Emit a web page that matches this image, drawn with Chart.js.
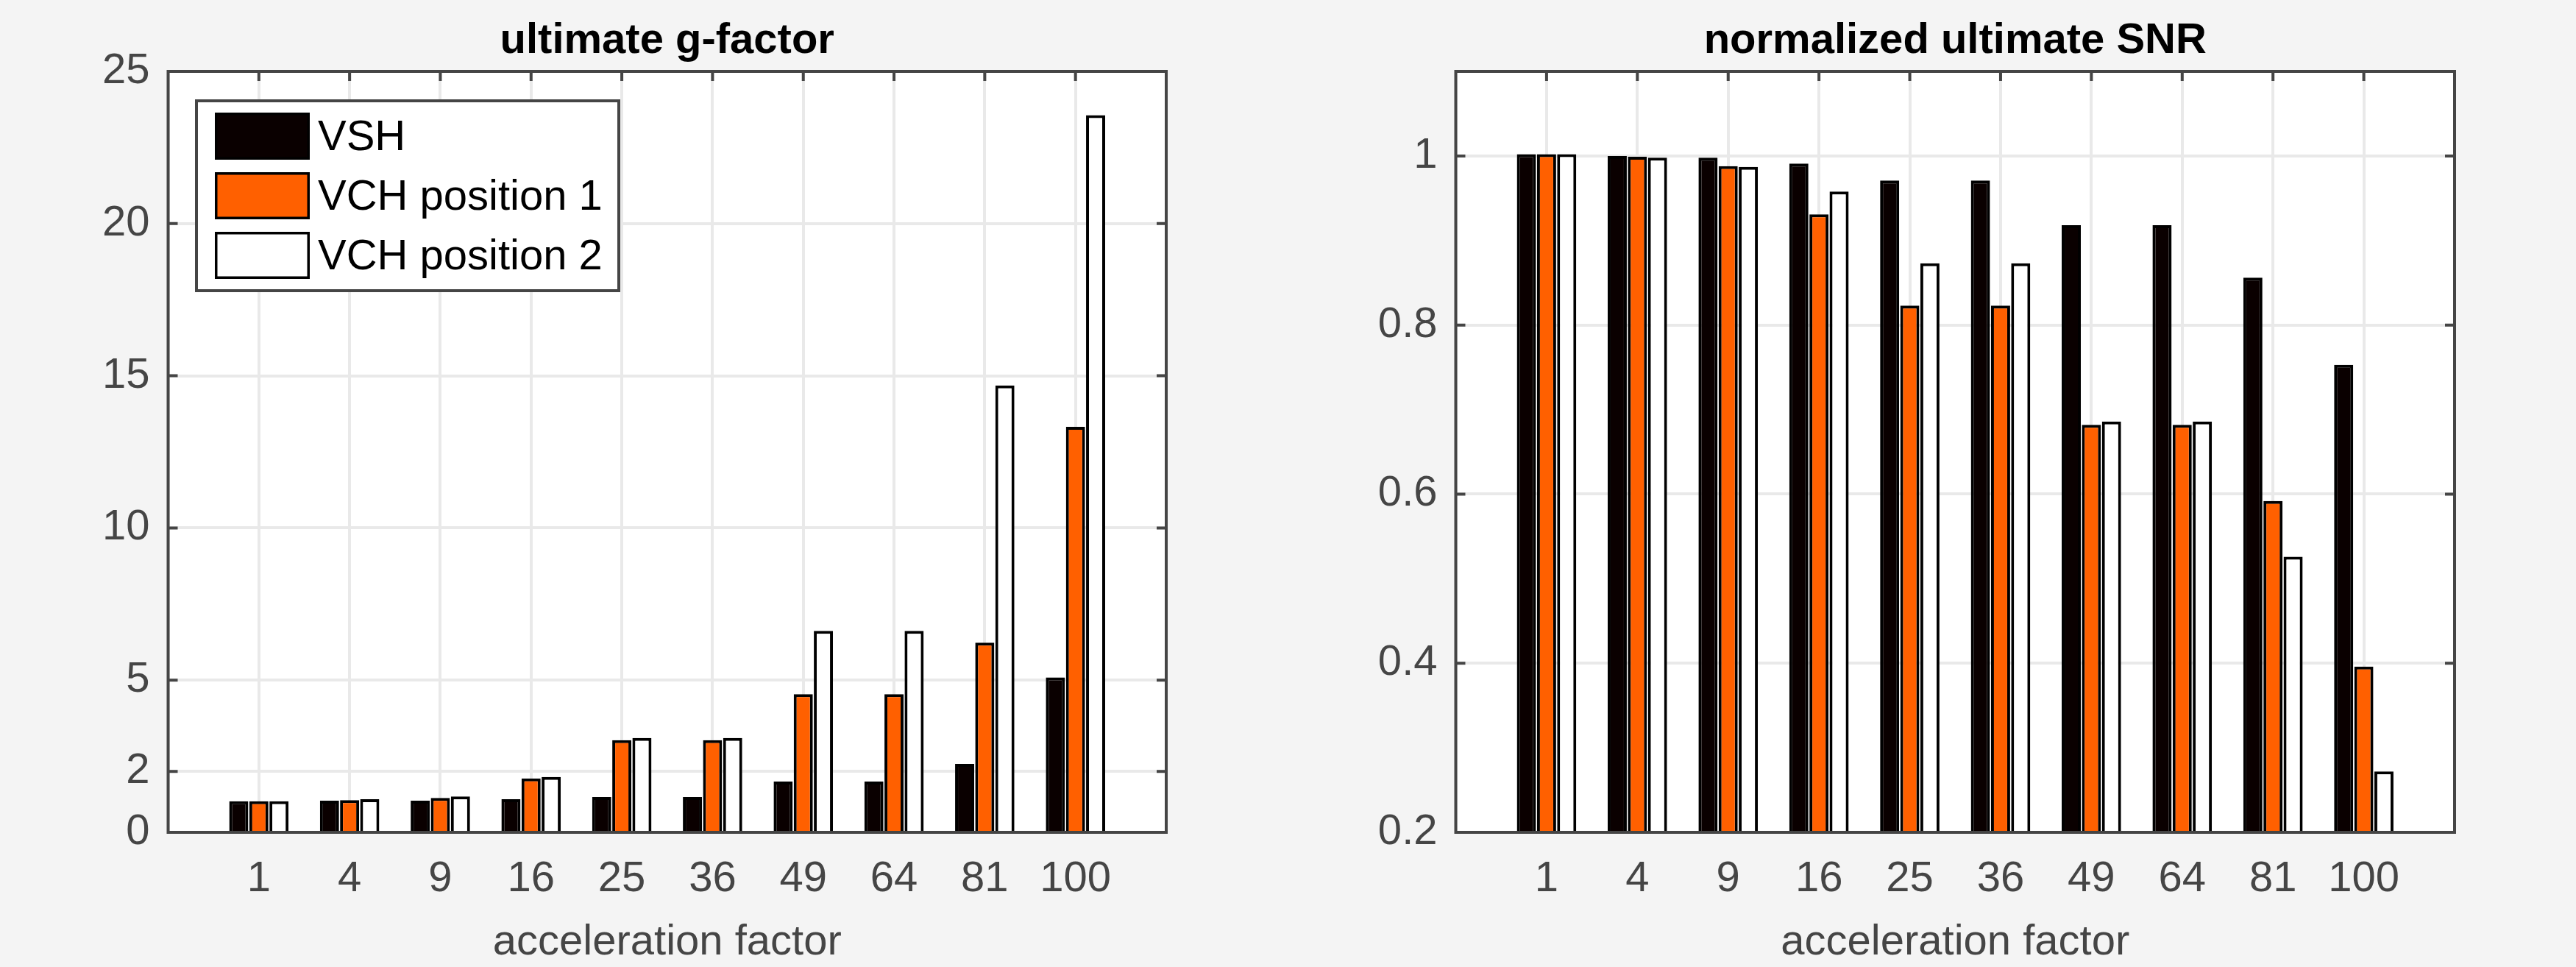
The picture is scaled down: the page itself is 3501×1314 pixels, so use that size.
<!DOCTYPE html>
<html>
<head>
<meta charset="utf-8">
<script src="https://cdn.jsdelivr.net/npm/chart.js@4.4.1/dist/chart.umd.min.js"></script>
<style>
  html, body { margin: 0; padding: 0; background: #f4f4f4; }
  .panel { position: absolute; top: 0; height: 1314px; }
  #leftPanel { left: 0; width: 1750px; }
  #rightPanel { left: 1750px; width: 1751px; }
</style>
</head>
<body>
<div class="panel" id="leftPanel"><canvas id="gfactorChart"></canvas></div>
<div class="panel" id="rightPanel"><canvas id="snrChart"></canvas></div>
<script>
// acceleration factors (x categories)
const categories = ['1', '4', '9', '16', '25', '36', '49', '64', '81', '100']

// ultimate g-factor
const gVSH  = [1.02, 1.04, 1.04, 1.09, 1.16, 1.16, 1.67, 1.67, 2.25, 5.09]
const gVCH1 = [1.02, 1.06, 1.13, 1.77, 3.03, 3.03, 4.54, 4.54, 6.23, 13.32]
const gVCH2 = [1.02, 1.09, 1.18, 1.82, 3.10, 3.10, 6.62, 6.62, 14.68, 23.56]
const gTicks = [0, 2, 5, 10, 15, 20, 25]

// normalized ultimate SNR
const snrVSH  = [1.002, 1.0, 0.998, 0.991, 0.971, 0.971, 0.918, 0.918, 0.856, 0.753]
const snrVCH1 = [1.002, 0.999, 0.988, 0.931, 0.823, 0.823, 0.682, 0.682, 0.592, 0.396]
const snrVCH2 = [1.002, 0.998, 0.987, 0.958, 0.873, 0.873, 0.686, 0.686, 0.526, 0.272]
const snrTicks = [0.2, 0.4, 0.6, 0.8, 1]

const seriesNames = ['VSH', 'VCH position 1', 'VCH position 2']

const FONT = '"Liberation Sans", Arial, Helvetica, sans-serif'
const AXIS = '#454545'
const GRID = '#e9e9e9'

// MATLAB puts the 10 groups on xlim [0 11], so pad one empty slot each side
const padLabels = ['', ...categories, '']
const pad = arr => [null, ...arr, null]

const barStyle = [
  { backgroundColor: '#0a0000', borderColor: '#000000' },
  { backgroundColor: '#ff6000', borderColor: '#000000' },
  { backgroundColor: '#ffffff', borderColor: '#000000' }
]

// box, inward ticks (under the bars), titles, legend
const matlabFrame = {
  id: 'matlabFrame',
  beforeDraw(chart) {
    const { ctx, chartArea: a } = chart
    ctx.save()
    ctx.fillStyle = '#ffffff'
    ctx.fillRect(a.left, a.top, a.width, a.height)
    ctx.restore()
  },
  beforeDatasetsDraw(chart) {
    const { ctx, chartArea: a, scales: { x, y } } = chart
    const tl = 13
    ctx.save()
    ctx.strokeStyle = AXIS
    ctx.lineWidth = 4
    ctx.beginPath()
    for (let i = 1; i <= categories.length; i++) {
      const px = x.getPixelForValue(i)
      ctx.moveTo(px, a.bottom); ctx.lineTo(px, a.bottom - tl)
      ctx.moveTo(px, a.top); ctx.lineTo(px, a.top + tl)
    }
    y.ticks.forEach(t => {
      const py = y.getPixelForValue(t.value)
      ctx.moveTo(a.left, py); ctx.lineTo(a.left + tl, py)
      ctx.moveTo(a.right, py); ctx.lineTo(a.right - tl, py)
    })
    ctx.stroke()
    ctx.restore()
  },
  afterDatasetsDraw(chart) {
    const { ctx, chartArea: a } = chart
    ctx.save()
    ctx.strokeStyle = AXIS
    ctx.lineWidth = 4
    ctx.strokeRect(a.left, a.top, a.width, a.height)
    ctx.restore()
  },
  afterDraw(chart, args, opts) {
    const { ctx, chartArea: a } = chart
    const cx = (a.left + a.right) / 2
    ctx.save()
    ctx.textAlign = 'center'
    ctx.textBaseline = 'alphabetic'
    ctx.fillStyle = '#000000'
    ctx.font = 'bold 58px ' + FONT
    ctx.fillText(opts.title, cx, 72)
    ctx.fillStyle = AXIS
    ctx.font = '58px ' + FONT
    ctx.fillText(opts.xlabel, cx, 1297)

    if (opts.legend) {
      const L = { x: 267, y: 137, w: 574, h: 258 }
      ctx.fillStyle = '#ffffff'
      ctx.fillRect(L.x, L.y, L.w, L.h)
      ctx.strokeStyle = AXIS
      ctx.lineWidth = 4
      ctx.strokeRect(L.x, L.y, L.w, L.h)
      const rows = [153, 234, 315]
      chart.data.datasets.forEach((ds, i) => {
        const top = rows[i]
        ctx.fillStyle = ds.backgroundColor
        ctx.fillRect(292, top, 129, 64)
        ctx.strokeStyle = ds.borderColor
        ctx.lineWidth = 3.5
        ctx.strokeRect(292 + 1.75, top + 1.75, 129 - 3.5, 64 - 3.5)
        ctx.fillStyle = '#000000'
        ctx.textAlign = 'left'
        ctx.textBaseline = 'middle'
        ctx.font = '58px ' + FONT
        ctx.fillText(ds.label, 432, top + 34.5)
      })
    }
    ctx.restore()
  }
}

function makeChart(canvasId, series, yMin, yMax, yTicks, title, legend) {
  return new Chart(document.getElementById(canvasId), {
    type: 'bar',
    data: {
      labels: padLabels,
      datasets: series.map((s, i) => ({
        label: seriesNames[i],
        data: pad(s),
        backgroundColor: barStyle[i].backgroundColor,
        borderColor: barStyle[i].borderColor,
        borderWidth: 4,
        categoryPercentage: 0.665,
        barPercentage: 0.95
      }))
    },
    options: {
      responsive: true, maintainAspectRatio: false,
      animation: false,
      layout: { padding: { top: 97, right: 165, bottom: 0, left: 0 } },
      plugins: {
        legend: { display: false },
        tooltip: { enabled: false },
        matlabFrame: { title, xlabel: 'acceleration factor', legend }
      },
      scales: {
        x: {
          offset: false,
          grid: { offset: false, color: GRID, lineWidth: 4, drawTicks: false },
          border: { display: false },
          ticks: {
            autoSkip: false, maxRotation: 0, padding: 29,
            color: AXIS, font: { family: FONT, size: 58 }
          },
          afterFit: s => { s.height = 183 }
        },
        y: {
          min: yMin, max: yMax,
          grid: { color: GRID, lineWidth: 4, drawTicks: false },
          border: { display: false },
          afterBuildTicks: s => { s.ticks = yTicks.map(v => ({ value: v })) },
          ticks: {
            padding: 25, color: AXIS,
            font: { family: FONT, size: 58 },
            callback: v => String(v)
          },
          afterFit: s => { s.width = 228.5 }
        }
      }
    },
    plugins: [matlabFrame]
  })
}

makeChart('gfactorChart', [gVSH, gVCH1, gVCH2], 0, 25, gTicks, 'ultimate g-factor', true)
makeChart('snrChart', [snrVSH, snrVCH1, snrVCH2], 0.2, 1.1, snrTicks, 'normalized ultimate SNR', false)
</script>
</body>
</html>
